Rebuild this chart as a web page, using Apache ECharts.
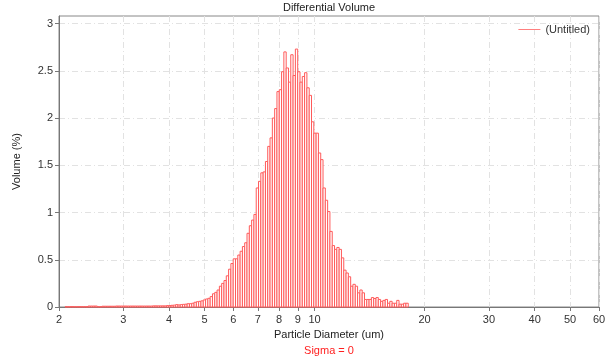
<!DOCTYPE html>
<html>
<head>
<meta charset="utf-8">
<script src="https://cdn.jsdelivr.net/npm/echarts@6/dist/echarts.min.js"></script>
<style>html,body{margin:0;padding:0;background:#fff}#c{width:609px;height:357px}</style>
</head>
<body>
<div id="c"></div>
<script>
// Tick labels (particle diameter, um) and y ticks
const tickLabels = [2, 3, 4, 5, 6, 7, 8, 9, 10, 20, 30, 40, 50, 60];
const yTicks = [0, 0.5, 1, 1.5, 2, 2.5, 3];
// Log-spaced instrument channels: first channel lower edge and channel width (decades)
const binStartDiameter = 2.078;
const binLogWidth = 0.0063;
// Differential volume (%) per channel
const volume = [
  0.003, 0.003, 0.003, 0.003, 0.003, 0.003, 0.003, 0.003, 0.003, 0.003,
  0.01, 0.01, 0.01, 0.01, 0.003, 0.003,
  0.008, 0.008, 0.008, 0.008, 0.008, 0.008,
  0.01, 0.01, 0.01, 0.01, 0.01, 0.01, 0.01, 0.01, 0.01, 0.01, 0.01, 0.01, 0.01, 0.01, 0.01, 0.01,
  0.012, 0.012, 0.012, 0.012, 0.012, 0.012,
  0.015, 0.015, 0.018, 0.02, 0.025, 0.022, 0.025, 0.028, 0.03, 0.035,
  0.035, 0.04, 0.05, 0.056, 0.06, 0.065, 0.075, 0.085, 0.092, 0.11,
  0.14, 0.155, 0.18, 0.22, 0.25, 0.28, 0.33, 0.40, 0.46, 0.51,
  0.51, 0.55, 0.59, 0.64, 0.68, 0.78, 0.86, 0.92, 0.98, 1.26,
  1.33, 1.42, 1.43, 1.54, 1.70, 1.79, 2.00, 2.10, 2.28, 2.30,
  2.49, 2.70, 2.53, 2.38, 2.67, 2.45, 2.73, 2.49, 2.38, 2.44,
  2.48, 2.32, 2.24, 1.96, 1.84, 1.84, 1.63, 1.56, 1.26, 1.13,
  1.01, 0.80, 0.65, 0.61, 0.63, 0.61, 0.52, 0.39, 0.36, 0.32,
  0.22, 0.24, 0.22, 0.15, 0.18, 0.15, 0.08, 0.08, 0.08, 0.10,
  0.09, 0.10, 0.08, 0.06, 0.07, 0.08, 0.04, 0.06, 0.04, 0.04,
  0.07, 0.03, 0.03, 0.04, 0.04
];

const log0 = Math.log10(binStartDiameter);
const barData = volume.map((v, k) => [log0 + k * binLogWidth, log0 + (k + 1) * binLogWidth, v]);
const logTicks = tickLabels.map(t => Math.log10(t));

const FONT = "'Liberation Sans', Arial, sans-serif";
const RED = '#ff5a5a';
const chart = echarts.init(document.getElementById('c'), null, {renderer: 'canvas'});
chart.setOption({
  animation: false,
  textStyle: {fontFamily: FONT},
  grid: {left: 59, right: 10, top: 16, bottom: 50, show: true, borderColor: '#888', borderWidth: 1, backgroundColor: 'transparent'},
  graphic: [
    {type: 'text', x: 329, y: 8, style: {text: 'Differential Volume', align: 'center', verticalAlign: 'middle', fontSize: 11, fontFamily: FONT, fill: '#222'}},
    {type: 'text', x: 329, y: 351, style: {text: 'Sigma = 0', align: 'center', verticalAlign: 'middle', fontSize: 11, fontFamily: FONT, fill: '#ff2020'}}
  ],
  legend: {
    right: 14, top: 19, icon: 'rect', itemWidth: 22, itemHeight: 1,
    textStyle: {fontSize: 11, fontFamily: FONT, color: '#333'},
    data: [{name: '(Untitled)', itemStyle: {color: '#ff8080'}}]
  },
  xAxis: {
    type: 'value', min: Math.log10(2), max: Math.log10(60),
    name: 'Particle Diameter (um)', nameLocation: 'middle', nameGap: 21,
    nameTextStyle: {fontSize: 11, color: '#222', fontFamily: FONT},
    axisLine: {show: true, lineStyle: {color: '#777'}},
    axisTick: {show: true, length: 4, lineStyle: {color: '#777'}, customValues: logTicks},
    axisLabel: {fontSize: 11, color: '#333', margin: 7, customValues: logTicks,
      formatter: v => String(Math.round(Math.pow(10, v)))},
    splitLine: {show: true, lineStyle: {color: '#e2e2e2', type: [6, 3, 1, 3]}}
  },
  yAxis: {
    type: 'value', min: 0, max: 3.08,
    name: 'Volume (%)', nameLocation: 'middle', nameGap: 37,
    nameTextStyle: {fontSize: 11, color: '#222', fontFamily: FONT},
    axisLine: {show: true, lineStyle: {color: '#777'}},
    axisTick: {show: true, length: 4, lineStyle: {color: '#777'}, customValues: yTicks},
    axisLabel: {fontSize: 11, color: '#333', margin: 6, customValues: yTicks},
    splitLine: {show: true, lineStyle: {color: '#e2e2e2', type: [6, 3, 1, 3]}}
  },
  series: [{
    name: '(Untitled)',
    type: 'custom',
    itemStyle: {color: '#ff8080'},
    encode: {x: [0, 1], y: 2},
    data: barData,
    renderItem: function (params, api) {
      const p0 = api.coord([api.value(0), api.value(2)]);
      const p1 = api.coord([api.value(1), 0]);
      return {
        type: 'rect',
        shape: {x: p0[0], y: p0[1], width: p1[0] - p0[0], height: p1[1] - p0[1]},
        style: {fill: '#fff', stroke: RED, lineWidth: 1}
      };
    }
  }]
});
</script>
</body>
</html>
